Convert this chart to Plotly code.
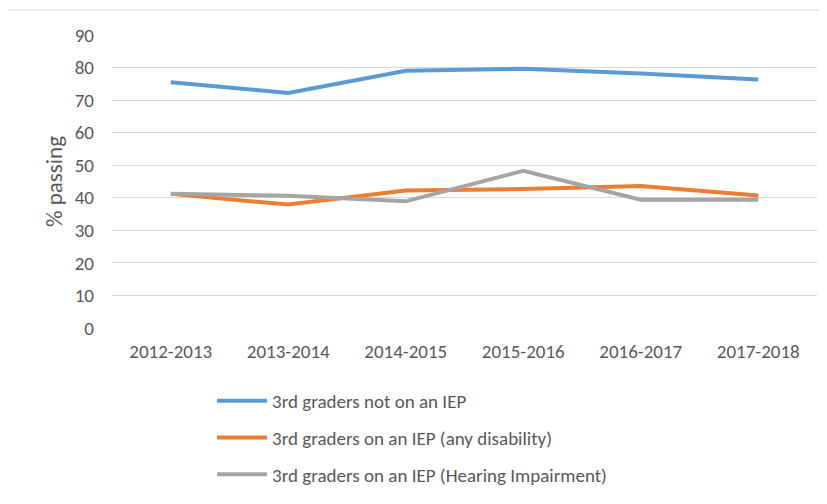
import plotly.graph_objects as go

years = ["2012-2013", "2013-2014", "2014-2015", "2015-2016", "2016-2017", "2017-2018"]
not_iep = [75.5, 72.2, 79.0, 79.6, 78.2, 76.3]
iep_any = [41.2, 37.9, 42.2, 42.7, 43.6, 40.7]
iep_hearing = [41.2, 40.6, 38.9, 48.3, 39.4, 39.4]

names = ["3rd graders not on an IEP",
         "3rd graders on an IEP (any disability)",
         "3rd graders on an IEP (Hearing Impairment)"]
colors = ["#5b9bd5", "#ed7d31", "#a5a5a5"]
series = [not_iep, iep_any, iep_hearing]

FONT = "Carlito, 'Open Sans', sans-serif"

fig = go.Figure()
for i, (n, c, s) in enumerate(zip(names, colors, series)):
    fig.add_trace(go.Scatter(x=years, y=s, name=n, mode="lines",
                             line=dict(color=c, width=4),
                             legendgroup=f"g{i}"))

# page has an 8px body margin, so figure coords = page coords - 8
W, H = 827, 504
L, R, T, B = 104, 18, 27, 184
pw, ph = W - L - R, H - T - B

fig.update_layout(
    width=W, height=H,
    margin=dict(l=L, r=R, t=T, b=B, autoexpand=False),
    paper_bgcolor="white", plot_bgcolor="white",
    font=dict(family=FONT, size=19, color="#595959"),
    showlegend=True,
    legend=dict(x=(204 - L) / pw, y=(ph + T - 374) / ph, xanchor="left", yanchor="top",
                orientation="v", tracegroupgap=9, itemwidth=50,
                font=dict(family=FONT, size=19, color="#595959"),
                bgcolor="rgba(0,0,0,0)"),
    xaxis=dict(showgrid=False, zeroline=False, showline=False, automargin=False,
               range=[-0.5, 5.5],
               tickfont=dict(family=FONT, size=19, color="#595959"),
               ticklabelstandoff=10),
    yaxis=dict(range=[0, 90], dtick=10, showgrid=True, gridcolor="#d9d9d9", gridwidth=1,
               zeroline=False, showline=False, automargin=False,
               tickfont=dict(family=FONT, size=19, color="#595959"),
               ticklabelstandoff=17,
               title=dict(text="% passing", font=dict(family=FONT, size=23, color="#595959"),
                          standoff=5)),
    shapes=[dict(type="rect", xref="paper", yref="paper",
                 x0=(-2 - L) / pw, x1=(W + 5 - L) / pw,
                 y0=1 + (T - 2) / ph, y1=-(H + 5 - T - ph) / ph,
                 line=dict(color="#d9d9d9", width=1), fillcolor="rgba(0,0,0,0)",
                 layer="below")],
)

fig.write_html("out.html")
